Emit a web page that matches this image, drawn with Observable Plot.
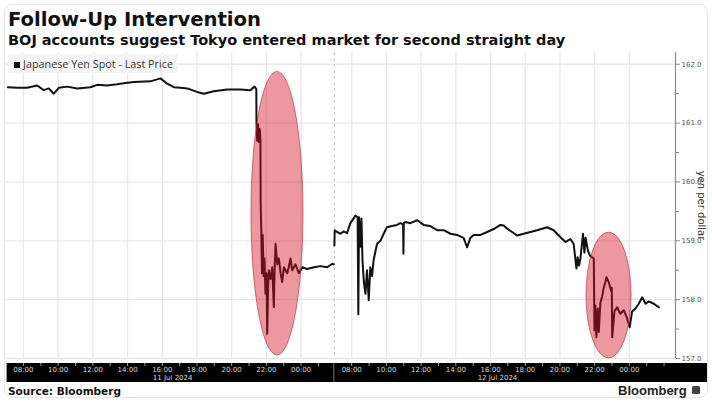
<!DOCTYPE html>
<html><head><meta charset="utf-8">
<script src="https://cdn.jsdelivr.net/npm/d3@7"></script>
<script src="https://cdn.jsdelivr.net/npm/@observablehq/plot@0.6"></script>
<style>
body{margin:0;background:#fff;width:712px;height:403px;overflow:hidden;position:relative;font-family:"DejaVu Sans",sans-serif;}
#card{position:absolute;left:4px;top:4px;width:702px;height:392px;border:1px solid #e6e6e6;border-radius:8px;}
#title{position:absolute;left:8px;top:10px;font:bold 19.6px/20px "DejaVu Sans";color:#111;white-space:nowrap;}
#subtitle{position:absolute;left:8px;top:33px;font:bold 14.5px/14px "DejaVu Sans";color:#111;white-space:nowrap;}
#chart{position:absolute;left:0;top:52px;}
#legend{position:absolute;left:8px;top:54px;height:19px;padding:0 5px 0 6px;background:#f5f5f5;font:10.8px/19px "Open Sans";color:#333;white-space:nowrap;}
#legend .sw{display:inline-block;width:6px;height:6px;background:#111;margin-right:3px;vertical-align:0px;}
#source{position:absolute;left:8px;top:385px;font:bold 10.5px/12px "DejaVu Sans";color:#111;white-space:nowrap;}
#logo{position:absolute;left:618px;top:384px;font:bold 13px/13px "Liberation Sans";color:#222;white-space:nowrap;}
#icon{position:absolute;left:692px;top:386px;width:8px;height:8px;background:#444;border-radius:1.5px;}
</style></head>
<body>
<div id="card"></div>
<div id="title">Follow-Up Intervention</div>
<div id="subtitle">BOJ accounts suggest Tokyo entered market for second straight day</div>
<div id="chart"></div>
<div id="legend"><span class="sw"></span>Japanese Yen Spot - Last Price</div>
<div id="source">Source: Bloomberg</div>
<div id="logo">Bloomberg</div>
<div id="icon"></div>
<script>
// Clock hours (Tokyo time); values > 24 are after midnight
const day1Hours = [7.10,7.64,8.21,8.79,9.17,9.46,9.75,10.04,10.52,11.10,11.86,12.25,12.82,13.40,13.88,14.36,15.32,15.90,16.28,16.67,17.05,17.44,18.01,18.40,18.97,19.74,20.51,21.08,21.32,21.42,
  21.43,21.47,21.52,21.57,21.62,21.66,21.67,21.71,21.75,21.79,21.84,21.89,21.95,22.01,22.05,22.10,22.14,22.24,22.34,22.43,22.47,22.53,22.63,22.72,22.82,22.91,23.01,23.20,23.29,23.39,23.49,23.68,23.87,24.07,24.35,24.74,25.12,25.51,25.80,25.88];
const day1Prices = [161.61,161.60,161.60,161.64,161.56,161.59,161.50,161.60,161.62,161.59,161.61,161.65,161.64,161.66,161.68,161.70,161.71,161.76,161.67,161.61,161.60,161.59,161.53,161.50,161.54,161.57,161.57,161.56,161.62,161.58,
  161.00,160.70,160.98,160.68,160.90,160.70,159.64,159.15,158.45,159.10,158.40,158.70,158.10,158.45,157.42,158.20,158.50,158.35,158.55,157.87,158.45,158.95,158.60,158.70,158.45,158.30,158.55,158.45,158.55,158.70,158.50,158.60,158.45,158.55,158.52,158.55,158.57,158.55,158.61,158.60];
const day2Hours = [7.00,7.02,7.15,7.35,7.54,7.73,7.92,8.11,8.21,8.34,8.38,8.42,8.50,8.56,8.62,8.70,8.79,8.88,8.98,9.07,9.17,9.26,9.46,9.65,9.84,10.03,10.32,10.61,10.80,10.96,10.98,11.00,11.09,11.38,11.77,12.15,12.53,12.92,13.30,13.69,14.07,14.45,14.65,14.84,15.03,15.42,15.80,16.18,16.57,16.76,16.95,17.53,17.91,18.30,18.68,19.26,19.64,20.03,20.32,20.60,20.79,20.95,21.02,21.10,21.18,21.33,21.41,21.48,21.60,21.72,21.85,21.95,21.99,22.04,22.10,22.18,22.24,22.33,22.43,22.53,22.62,22.68,22.81,22.95,22.99,23.01,23.14,23.29,23.48,23.68,23.87,24.02,24.16,24.35,24.54,24.74,24.93,25.12,25.41,25.70];
const day2Prices = [158.92,159.18,159.15,159.12,159.16,159.13,159.30,159.38,159.43,159.40,157.75,159.40,158.90,159.38,158.67,158.30,158.10,158.50,157.99,158.55,158.40,158.67,158.95,159.00,159.12,159.23,159.25,159.27,159.30,159.28,158.78,159.30,159.32,159.30,159.35,159.27,159.25,159.18,159.18,159.12,159.10,159.05,158.89,159.05,159.10,159.10,159.15,159.20,159.27,159.26,159.21,159.09,159.12,159.15,159.18,159.23,159.18,159.06,158.98,159.03,158.95,158.53,158.72,158.58,158.70,159.12,158.80,159.05,158.85,158.75,158.72,158.70,157.48,157.90,157.36,157.85,157.45,157.95,158.05,158.21,158.30,158.38,158.30,158.15,158.20,157.36,157.80,157.87,157.76,157.82,157.68,157.53,157.80,157.85,157.93,158.04,157.93,157.97,157.93,157.87];

// Session layout (Bloomberg hides the overnight gap)
const sessionOpen = 7;          // 07:00 each day
const day1Close = 25.92;        // ~01:55 next morning
const day2Close = 26.66;        // ~02:40 next morning
const L1 = day1Close - sessionOpen;
const toSession = (day, h) => day === 1 ? h - sessionOpen : L1 + h - sessionOpen;

// Axis ticks
const labelHours = [8,10,12,14,16,18,20,22,24];
const labelTexts = ["08:00","10:00","12:00","14:00","16:00","18:00","20:00","22:00","00:00"];
const minorHours1 = [8,9,10,11,12,13,14,15,16,17,18,19,20,21,22,23,24,25];
const minorHours2 = [8,9,10,11,12,13,14,15,16,17,18,19,20,21,22,23,24,25,26];
const dateHours = [16.6, 16.4];
const dateTexts = ["11 Jul 2024", "12 Jul 2024"];
const yTicks = [157,158,159,160,161,162];
const yMinor = [157.5,158.5,159.5,160.5,161.5];
const yLabel = "yen per dollar";

// Highlight ellipses (intervention windows)
const ellipseDay = [1, 2];
const ellipseHour = [22.64, 22.83];
const ellipsePrice = [159.46, 158.07];
const ellipseHalfHours = [1.50, 1.30];
const ellipseHalfYen = [2.41, 1.07];

const points = [
  ...day1Hours.map((h, i) => ({day: 1, s: toSession(1, h), price: day1Prices[i]})),
  ...day2Hours.map((h, i) => ({day: 2, s: toSession(2, h), price: day2Prices[i]}))
];
const labelPos = new Map();
labelHours.forEach((h, i) => { labelPos.set(toSession(1, h), labelTexts[i]); labelPos.set(toSession(2, h), labelTexts[i]); });
const labelTicks = [...labelPos.keys()];
const minorTicks = [...minorHours1.map(h => toSession(1, h)), ...minorHours2.map(h => toSession(2, h))];
const datePos = new Map(dateHours.map((h, i) => [toSession(i + 1, h), dateTexts[i]]));
const ellipses = ellipseDay.map((d, i) => ({s: toSession(d, ellipseHour[i]), price: ellipsePrice[i], rh: ellipseHalfHours[i], ry: ellipseHalfYen[i]}));
const xEnd = toSession(2, day2Close);

const band = (index, scales, values, dim) => {
  const g = d3.create("svg:g");
  const top = dim.height - dim.marginBottom + 5;
  g.append("rect").attr("x", dim.marginLeft + 1).attr("y", top).attr("width", dim.width - dim.marginLeft - 6).attr("height", 19).attr("fill", "#000");
  g.append("line").attr("x1", scales.x(L1)).attr("x2", scales.x(L1)).attr("y1", top).attr("y2", top + 19).attr("stroke", "#777").attr("stroke-width", 1);
  return g.node();
};
const ellipseMark = (index, scales) => {
  const g = d3.create("svg:g");
  g.selectAll("ellipse").data(ellipses).join("ellipse")
    .attr("cx", d => scales.x(d.s)).attr("cy", d => scales.y(d.price))
    .attr("rx", d => Math.abs(scales.x(d.s + d.rh) - scales.x(d.s)))
    .attr("ry", d => Math.abs(scales.y(d.price + d.ry) - scales.y(d.price)))
    .attr("fill", "#d5152a").attr("fill-opacity", 0.44)
    .attr("stroke", "#a8303c").attr("stroke-width", 0.8).attr("stroke-opacity", 0.8);
  return g.node();
};

const chart = Plot.plot({
  width: 712, height: 333,
  marginLeft: 5.6, marginRight: 37, marginTop: 0, marginBottom: 27,
  x: {domain: [0, xEnd]},
  y: {domain: [157, 162.2]},
  style: {background: "transparent", fontFamily: "DejaVu Sans", overflow: "visible"},
  marks: [
    band,
    Plot.gridY(yTicks, {stroke: "#e8e8e8", strokeOpacity: 1, strokeWidth: 1.3}),
    Plot.gridX(labelTicks, {stroke: "#e8e8e8", strokeOpacity: 1, strokeWidth: 1.3}),
    Plot.ruleX([L1], {stroke: "#c4c4c4", strokeDasharray: "3,3"}),
    Plot.line(points, {x: "s", y: "price", z: "day", stroke: "#111", strokeWidth: 2}),
    ellipseMark,
    Plot.ruleX([xEnd], {stroke: "#8a8a8a", strokeWidth: 1.2}),
    Plot.axisY(yTicks, {anchor: "right", tickSize: 4, tickPadding: 2, fontSize: 7, fill: "#555", stroke: "#888", label: null}),
    Plot.axisY(yMinor, {anchor: "right", tickSize: 3, tickFormat: () => "", stroke: "#888", label: null}),
    Plot.text([yLabel], {frameAnchor: "right", rotate: 90, textAnchor: "middle", lineAnchor: "middle", dx: 26, fontSize: 10, fill: "#333", text: d => d}),
    Plot.axisX(minorTicks, {anchor: "bottom", tickSize: 3, dy: 5, tickFormat: () => "", stroke: "#9a9a9a", label: null}),
    Plot.axisX(labelTicks, {anchor: "bottom", tickSize: 0, tickPadding: 9, tickFormat: d => labelPos.get(d), fill: "#d8d8d8", fontSize: 7, label: null}),
    Plot.axisX([...datePos.keys()], {anchor: "bottom", tickSize: 0, tickPadding: 17, tickFormat: d => datePos.get(d), fill: "#d8d8d8", fontSize: 7, label: null})
  ]
});
document.getElementById("chart").appendChild(chart);
</script>
</body></html>
